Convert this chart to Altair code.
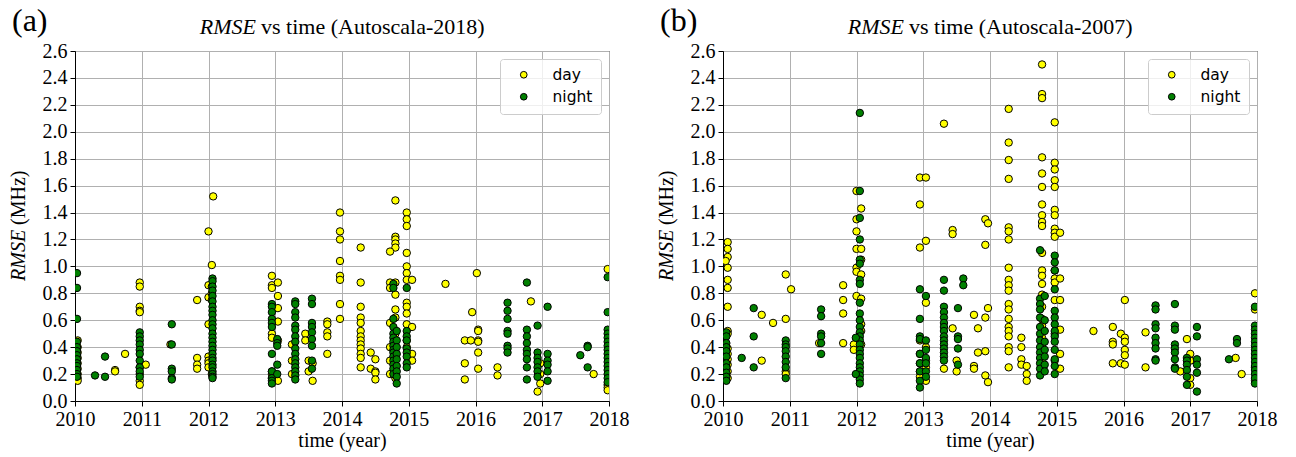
import altair as alt
import pandas as pd

# ---------------- data (year, [RMSE values in MHz]) ----------------
A_DAY = [
    (2010.04, [0.45, 0.40, 0.36, 0.32, 0.28, 0.24, 0.20, 0.17, 0.15]),
    (2010.60, [0.23, 0.22]), (2010.75, [0.35]),
    (2010.97, [0.88, 0.85, 0.70, 0.67, 0.66, 0.25, 0.20, 0.15, 0.12]),
    (2011.06, [0.27]), (2011.43, [0.42]),
    (2011.83, [0.75, 0.32, 0.27, 0.24]),
    (2012.07, [1.52]), (2012.00, [1.26, 0.86, 0.77, 0.57, 0.33, 0.30, 0.28, 0.25]),
    (2012.05, [1.01, 0.85, 0.80, 0.75, 0.20]),
    (2012.95, [0.93, 0.86, 0.84, 0.50, 0.47, 0.22, 0.20, 0.17]),
    (2013.04, [0.88, 0.78, 0.69, 0.59, 0.45, 0.15]),
    (2013.25, [0.42, 0.30, 0.20]),
    (2013.45, [0.50, 0.45]), (2013.50, [0.30, 0.22]), (2013.56, [0.28, 0.15]),
    (2013.78, [0.59, 0.57, 0.51, 0.48, 0.35]),
    (2013.97, [1.40, 1.26, 1.20, 1.04, 0.93, 0.90, 0.72, 0.61]),
    (2014.28, [1.14, 0.88, 0.70, 0.62, 0.58, 0.52, 0.48, 0.45, 0.42, 0.39, 0.35, 0.32, 0.25]),
    (2014.43, [0.36, 0.24]), (2014.50, [0.31, 0.22, 0.21, 0.16]),
    (2014.80, [1.49, 1.22, 1.20, 1.17, 1.14, 0.88, 0.79, 0.68, 0.62, 0.50, 0.45, 0.37, 0.27, 0.22, 0.17]),
    (2014.72, [1.11, 0.88, 0.84, 0.58, 0.40, 0.30, 0.20]),
    (2014.97, [1.40, 1.35, 1.30, 1.10, 1.00, 0.95, 0.90, 0.73, 0.70, 0.65, 0.57, 0.45, 0.40]),
    (2015.05, [0.90, 0.55, 0.35, 0.30]),
    (2015.55, [0.87]), (2016.02, [0.95]), (2015.95, [0.66]),
    (2016.04, [0.53, 0.52, 0.45, 0.44, 0.36, 0.24]),
    (2015.84, [0.45, 0.28, 0.16]), (2015.93, [0.45]),
    (2016.33, [0.25, 0.19]), (2016.83, [0.74]),
    (2016.97, [0.28, 0.20, 0.13]), (2016.93, [0.07]),
    (2017.77, [0.20]), (2017.98, [0.98, 0.12, 0.10, 0.08]),
]
A_NIGHT = [
    (2010.03, [0.95, 0.84, 0.61, 0.44, 0.40, 0.37, 0.34, 0.31, 0.28, 0.26, 0.23, 0.20, 0.18]),
    (2010.30, [0.19]), (2010.45, [0.33, 0.18]),
    (2010.97, [0.51, 0.48, 0.45, 0.42, 0.38, 0.35, 0.30, 0.25, 0.22, 0.18]),
    (2011.45, [0.57, 0.42, 0.24, 0.22, 0.17, 0.16]),
    (2012.06, [0.91, 0.89, 0.85, 0.82, 0.78, 0.74, 0.70, 0.67, 0.64, 0.60, 0.57, 0.54, 0.50,
               0.47, 0.44, 0.41, 0.38, 0.35, 0.32, 0.30, 0.27, 0.25, 0.22, 0.20, 0.18, 0.17]),
    (2012.95, [0.72, 0.70, 0.66, 0.61, 0.58, 0.55, 0.35, 0.22, 0.17, 0.15, 0.13]),
    (2013.03, [0.46, 0.43, 0.41, 0.27, 0.20]),
    (2013.30, [0.74, 0.72, 0.66, 0.62, 0.56, 0.53, 0.48, 0.44, 0.39, 0.35, 0.31, 0.28, 0.25, 0.22, 0.19, 0.16]),
    (2013.55, [0.76, 0.72, 0.58, 0.55, 0.51, 0.46, 0.41, 0.30, 0.24]),
    (2014.77, [0.87, 0.84, 0.61, 0.55, 0.50, 0.47, 0.44, 0.41, 0.38, 0.36, 0.33, 0.30, 0.27, 0.24, 0.20]),
    (2014.82, [0.52, 0.45, 0.40, 0.35, 0.31, 0.26, 0.22, 0.18, 0.13]),
    (2014.97, [0.84, 0.52, 0.48, 0.45, 0.39, 0.36, 0.33, 0.28, 0.25]),
    (2016.48, [0.73, 0.67, 0.61, 0.52, 0.50, 0.41, 0.39, 0.36]),
    (2016.77, [0.88, 0.53, 0.48, 0.43, 0.38, 0.35, 0.31, 0.25, 0.16]),
    (2016.93, [0.56, 0.36, 0.32, 0.29, 0.25, 0.22, 0.18]),
    (2017.08, [0.70, 0.35, 0.30, 0.27, 0.22, 0.15]),
    (2017.57, [0.34]), (2017.68, [0.41, 0.40, 0.25]),
    (2017.98, [0.92, 0.66, 0.53, 0.50, 0.47, 0.44, 0.41, 0.38, 0.35, 0.32, 0.29, 0.26, 0.23, 0.20, 0.17, 0.14]),
]
B_DAY = [
    (2010.07, [1.18, 1.13, 1.07, 0.99, 0.90, 0.84, 0.70, 0.52, 0.50, 0.39, 0.35, 0.31, 0.27, 0.22, 0.17]),
    (2010.04, [1.04]),
    (2010.58, [0.64, 0.30]), (2010.75, [0.58]), (2010.94, [0.94, 0.61, 0.22, 0.20]), (2011.02, [0.83]),
    (2011.44, [0.43]), (2011.80, [0.86, 0.75, 0.65, 0.43]),
    (2012.00, [1.56, 1.35, 1.26, 1.13, 0.99, 0.96, 0.78, 0.46, 0.39]),
    (2012.07, [1.43, 1.13, 1.05, 0.94, 0.76, 0.57, 0.52, 0.42]), (2011.96, [0.42, 0.38]),
    (2012.95, [1.66, 1.46, 1.14, 0.45, 0.35, 0.28, 0.22, 0.18]),
    (2013.04, [1.66, 1.19, 0.73, 0.40, 0.30, 0.25, 0.15]),
    (2013.31, [2.06, 0.24]), (2013.44, [1.27, 1.24, 0.54]), (2013.50, [0.22, 0.30]),
    (2013.76, [0.64, 0.26, 0.24]), (2013.82, [0.54, 0.36]),
    (2013.93, [1.35, 1.16, 0.62, 0.37, 0.19]), (2013.97, [1.32, 0.69, 0.14]),
    (2014.28, [2.17, 1.92, 1.79, 1.65, 1.29, 1.26, 1.20, 0.99, 0.90, 0.86, 0.82, 0.72, 0.68,
               0.61, 0.55, 0.52, 0.48, 0.40, 0.37, 0.25]),
    (2014.47, [0.47, 0.40, 0.31, 0.27]), (2014.55, [0.26, 0.20, 0.15]),
    (2014.78, [2.50, 2.28, 2.25, 1.81, 1.69, 1.59, 1.46, 1.38, 1.33, 1.30, 1.10, 0.97, 0.93,
               0.87, 0.79, 0.70, 0.61, 0.56, 0.47, 0.42, 0.36, 0.30, 0.22]),
    (2014.97, [2.07, 1.77, 1.72, 1.64, 1.59, 1.42, 1.38, 1.28, 1.25, 1.22, 0.97, 0.91, 0.88, 0.75, 0.50, 0.30]),
    (2015.05, [1.25, 0.91, 0.75, 0.53, 0.35, 0.24]),
    (2015.55, [0.52]), (2015.84, [0.55, 0.44, 0.42, 0.28]), (2015.96, [0.50, 0.28]),
    (2016.02, [0.75, 0.47, 0.44, 0.38, 0.34, 0.27]), (2016.33, [0.51, 0.25]),
    (2016.85, [0.22]), (2016.95, [0.46]), (2017.00, [0.35, 0.30, 0.17, 0.12]),
    (2017.68, [0.32]), (2017.77, [0.20]), (2017.97, [0.80, 0.68, 0.25, 0.15]),
]
B_NIGHT = [
    (2010.05, [0.51, 0.48, 0.43, 0.40, 0.37, 0.33, 0.28, 0.25, 0.21, 0.18, 0.15]),
    (2010.28, [0.32]), (2010.46, [0.69, 0.48, 0.25]),
    (2010.94, [0.45, 0.42, 0.40, 0.37, 0.33, 0.29, 0.25, 0.17]),
    (2011.47, [0.68, 0.63, 0.50, 0.48, 0.43, 0.35]),
    (2012.05, [2.14, 1.56, 1.36, 1.20, 1.05, 1.02, 0.90, 0.87, 0.73, 0.65, 0.60, 0.55, 0.51,
               0.48, 0.45, 0.42, 0.38, 0.35, 0.32, 0.28, 0.25, 0.22, 0.19, 0.16, 0.13]),
    (2011.99, [0.47, 0.20]),
    (2012.95, [0.83, 0.61, 0.48, 0.46, 0.35, 0.28, 0.22, 0.15, 0.10]),
    (2013.04, [0.78, 0.45, 0.38, 0.32, 0.28, 0.22, 0.18]),
    (2013.31, [0.90, 0.82, 0.70, 0.66, 0.62, 0.58, 0.55, 0.52, 0.48, 0.45, 0.42, 0.39, 0.36, 0.33, 0.30]),
    (2013.52, [0.69, 0.48, 0.46, 0.39, 0.27]), (2013.60, [0.91, 0.86]),
    (2014.75, [1.12, 0.76, 0.72, 0.68, 0.62, 0.55, 0.50, 0.45, 0.40, 0.36, 0.32, 0.28, 0.24, 0.19]),
    (2014.82, [0.78, 0.60, 0.52, 0.44, 0.38, 0.33, 0.27, 0.22]),
    (2014.97, [1.08, 1.03, 0.97, 0.83, 0.67, 0.62, 0.57, 0.52, 0.48, 0.44, 0.38, 0.31, 0.26, 0.20]),
    (2016.48, [0.71, 0.68, 0.57, 0.54, 0.47, 0.43, 0.39, 0.31, 0.30]),
    (2016.77, [0.72, 0.56, 0.53, 0.42, 0.39, 0.36, 0.31, 0.25, 0.24]),
    (2016.95, [0.32, 0.30, 0.27, 0.23, 0.18, 0.12]),
    (2017.10, [0.55, 0.48, 0.31, 0.27, 0.21, 0.07]),
    (2017.58, [0.31]), (2017.70, [0.46, 0.43]),
    (2017.97, [0.70, 0.56, 0.53, 0.50, 0.47, 0.44, 0.41, 0.38, 0.35, 0.32, 0.29, 0.26, 0.23, 0.20, 0.17, 0.13]),
]

YEARS = list(range(2010, 2019))
Y_TICKS = [round(0.2 * i, 1) for i in range(14)]
KINDS = ["day", "night"]
COLORS = ["#ffff00", "#008000"]

SERIF = "Liberation Serif"


def to_frame(day, night):
    rows = []
    for kind, cols in (("day", day), ("night", night)):
        for x, ys in cols:
            for y in ys:
                rows.append({"year": x, "rmse": y, "kind": kind})
    return pd.DataFrame(rows)


def text_layer(label, x, y, size, align="left", baseline="alphabetic", style="normal", angle=0, font=SERIF):
    return alt.Chart(pd.DataFrame({"t": [label]})).mark_text(
        font=font, fontSize=size, fontStyle=style, align=align, baseline=baseline,
        angle=angle, color="black"
    ).encode(x=alt.value(x), y=alt.value(y), text="t:N")


def panel(day, night, tag, suffix):
    df = to_frame(day, night)
    pts = alt.Chart(df).mark_circle(
        size=55, opacity=1, stroke="black", strokeWidth=1, clip=True
    ).encode(
        x=alt.X("year:Q", scale=alt.Scale(domain=[2010, 2018], nice=False, zero=False),
                axis=alt.Axis(values=YEARS, format="d", title="time (year)", titlePadding=1)),
        y=alt.Y("rmse:Q", scale=alt.Scale(domain=[0, 2.6], nice=False),
                axis=alt.Axis(values=Y_TICKS, format=".1f", title=None)),
        fill=alt.Fill("kind:N", scale=alt.Scale(domain=KINDS, range=COLORS),
                      legend=alt.Legend(title=None, orient="top-right", offset=8,
                                        labelFont="DejaVu Sans", labelFontSize=15.5,
                                        symbolType="circle", symbolSize=45,
                                        symbolStrokeColor="black", symbolStrokeWidth=1,
                                        fillColor="rgba(255,255,255,0.8)", strokeColor="#cccccc",
                                        cornerRadius=3, padding=8, rowPadding=5,
                                        labelOffset=21, symbolOffset=8)),
    )
    layers = [
        pts,
        text_layer(tag, -63, -20, 32),
        text_layer("RMSE", 181, -17, 22, align="right", style="italic"),
        text_layer("vs time (Autoscala-" + suffix + ")", 186, -17, 22, align="left"),
        text_layer("RMSE", -56, 230, 20, align="left", baseline="middle", style="italic", angle=270),
        text_layer("(MHz)", -56, 174, 20, align="left", baseline="middle", angle=270),
    ]
    return alt.layer(*layers).properties(width=534, height=350)


left = panel(A_DAY, A_NIGHT, "(a)", "2018")
right = panel(B_DAY, B_NIGHT, "(b)", "2007")

chart = alt.hconcat(left, right, spacing=114, bounds="flush").resolve_scale(
    fill="independent", x="independent", y="independent"
).resolve_legend(fill="independent").properties(
    padding={"left": 8, "top": 4, "right": 10, "bottom": 5}
).configure_view(
    stroke="black", strokeWidth=1
).configure_axis(
    labelFont=SERIF, labelFontSize=20, labelColor="black",
    titleFont=SERIF, titleFontSize=20, titleFontWeight="normal", titleColor="black",
    grid=True, gridColor="#b0b0b0", gridWidth=1,
    domainColor="black", tickColor="black", tickSize=5, labelPadding=3,
    labelFlush=False, labelOverlap=False,
)

chart.save("out.html", embed_options={"renderer": "svg", "actions": False})
